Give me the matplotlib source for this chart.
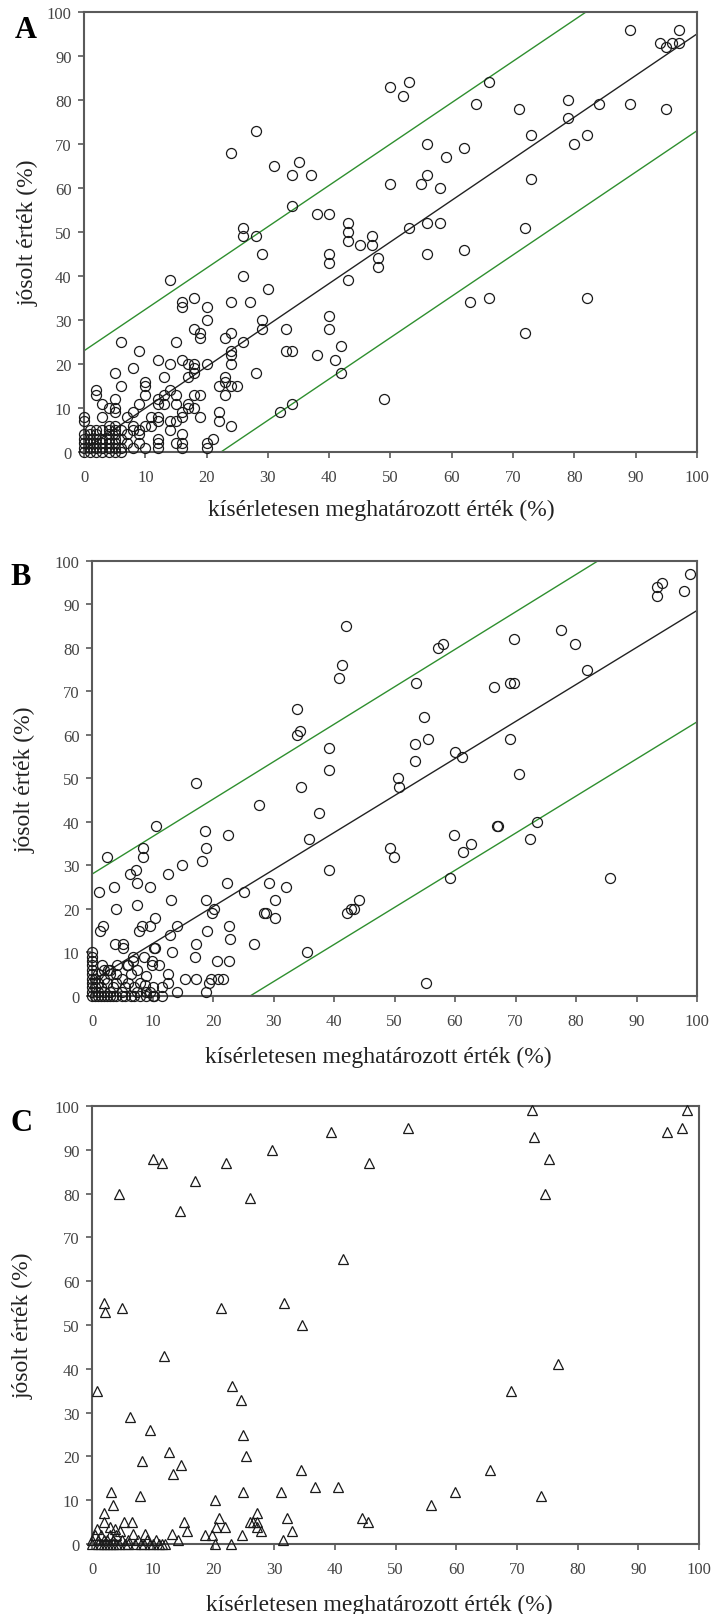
import numpy as np
import matplotlib
matplotlib.use("Agg")
from matplotlib import pyplot as plt

plt.rcParams["font.family"] = ["Liberation Serif", "DejaVu Serif"]

# ---- panel A ----
a_x = [14, 24, 28, 31, 34, 35, 37, 34, 38, 40, 43, 43, 43, 45, 26, 26, 28, 29, 26, 30, 40, 40, 43,
       50, 52, 53, 66, 64, 71, 79, 79, 84, 89, 89, 95, 94, 95, 96, 97, 97, 56, 62, 59, 50, 55, 56, 58,
       73, 73, 80, 82, 53, 56, 58, 56, 62, 72, 47, 47, 48, 48,
       63, 66, 82, 72, 49,
       18, 16, 16, 20, 24, 27, 20, 18, 19, 19, 23, 24, 26, 15, 6, 29, 29, 33, 33, 34, 38, 40, 40, 41,
       42, 42, 9, 8, 5, 6, 2, 2, 12, 14, 16, 17, 18, 18, 18, 20, 17, 24, 24, 24, 28, 23, 23, 22, 24,
       25, 23, 13, 10, 10, 10, 14, 15, 13, 13, 12, 12, 15, 16, 17, 17, 18, 18, 19, 19, 22, 22, 24, 9,
       8, 7, 5, 5, 5, 4, 3, 3, 0, 0, 11, 12, 12, 14, 15, 16, 14, 10, 11, 9, 9, 12, 12, 12, 10, 8, 9,
       16, 16, 16, 15, 20, 20, 21, 32, 34,
       0, 0, 0, 0, 0, 1, 1, 1, 1, 1, 1, 2, 2, 2, 2, 2, 2, 3, 3, 3, 3, 3, 4, 4, 4, 4, 4, 4, 4,
       5, 5, 5, 5, 5, 5, 5, 6, 6, 6, 6, 7, 7, 8, 8]
a_y = [39, 68, 73, 65, 63, 66, 63, 56, 54, 54, 52, 50, 48, 47, 51, 49, 49, 45, 40, 37, 45, 43, 39,
       83, 81, 84, 84, 79, 78, 80, 76, 79, 96, 79, 78, 93, 92, 93, 93, 96, 70, 69, 67, 61, 61, 63, 60,
       72, 62, 70, 72, 51, 52, 52, 45, 46, 51, 49, 47, 44, 42,
       34, 35, 35, 27, 12,
       35, 34, 33, 33, 34, 34, 30, 28, 27, 26, 26, 27, 25, 25, 25, 30, 28, 28, 23, 23, 22, 31, 28, 21,
       24, 18, 23, 19, 18, 15, 14, 13, 21, 20, 21, 20, 20, 19, 18, 20, 17, 22, 23, 20, 18, 17, 16, 15, 15,
       15, 13, 17, 16, 15, 13, 14, 13, 13, 11, 12, 11, 11, 9, 11, 10, 10, 13, 13, 8, 9, 7, 6, 11,
       9, 8, 12, 10, 9, 10, 11, 8, 8, 7, 8, 8, 7, 7, 7, 8, 5, 6, 6, 5, 4, 3, 2, 1, 1, 1, 2,
       4, 2, 1, 2, 2, 1, 3, 9, 11,
       0, 1, 2, 3, 4, 0, 1, 2, 3, 4, 5, 0, 1, 2, 3, 4, 5, 0, 1, 2, 3, 5, 0, 1, 2, 3, 4, 5, 6,
       0, 1, 2, 3, 4, 5, 6, 0, 1, 3, 5, 2, 4, 5, 6]
# regression line and prediction band: intercept, slope
a_fit = (0.5, 0.945)
a_band_hi = (23.0, 0.94)
a_band_lo = (-21.0, 0.94)

# ---- panel B ----
b_x = [42, 41.3, 40.9, 33.8, 34.3, 33.8, 39.2, 39.2, 34.5, 17.2, 27.6, 37.5, 10.6, 18.6, 22.4, 35.9,
       98.8, 94.2, 93.3, 93.4, 97.8, 77.5, 79.8, 81.8, 69.8, 69.1, 69.8, 66.4, 57.2, 58, 53.6, 54.9,
       53.4, 55.6, 53.3, 50.6, 50.8, 60, 61.2, 69.1, 70.5, 67.1, 67.0, 73.5, 72.4, 59.8, 62.6, 61.3, 49.2,
       49.9, 59.2, 85.6, 55.2, 44.1, 43.3,
       8.5, 8.5, 2.5, 18.8, 18.1, 14.8, 7.3, 6.3, 12.6, 7.5, 9.6, 3.7, 1.2, 7.4, 3.9, 13, 18.8, 20.2,
       19.9, 22.3, 25.1, 29.3, 32.1, 30.3, 30.2, 28.5, 28.7, 39.2, 42.1, 42.8, 10.4, 14, 12.9, 19,
       22.6, 22.8, 26.7, 35.5, 17.2, 13.3, 17.1, 20.7, 22.7, 9.6, 8.2, 7.8, 1.8, 1.4, 3.8, 5.1, 5.2,
       10.4, 10.2, 0, 0, 0, 0, 6.7, 8.6, 6.7, 9.9, 9.9, 11, 5.7, 4.1, 2.7, 1.6, 15.4, 17.2, 19.6, 20.9,
       21.6, 19.4, 18.8, 14.1, 12.6, 12.6, 11.6, 11.5, 8.9, 8.8, 9.6, 10.2,
       0, 0, 0, 0, 0, 0, 0, 0.5, 0.5, 0.5, 1, 1, 1, 1, 1.5, 1.5, 2, 2, 2, 2, 2.5, 2.5, 3, 3, 3, 3,
       3.5, 3.5, 4, 4, 4, 5, 5, 5, 5.5, 5.5, 6, 6, 6.5, 6.5, 7, 7, 7.5, 7.5, 8, 8, 9, 9, 10, 10]
b_y = [85, 76, 73, 66, 61, 60, 57, 52, 48, 49, 44, 42, 39, 38, 37, 36,
       97, 95, 94, 92, 93, 84, 81, 75, 82, 72, 72, 71, 80, 81, 72, 64,
       58, 59, 54, 50, 48, 56, 55, 59, 51, 39, 39, 40, 36, 37, 35, 33, 34,
       32, 27, 27, 3, 22, 20,
       34, 32, 32, 34, 31, 30, 29, 28, 28, 26, 25, 25, 24, 21, 20, 22, 22, 20,
       19, 26, 24, 26, 25, 22, 18, 19, 19, 29, 19, 20, 18, 16, 14, 15,
       16, 13, 12, 10, 12, 10, 9, 8, 8, 16, 16, 15, 16, 15, 12, 12, 11,
       11, 11, 10, 9, 8, 7, 9, 9, 8, 8, 7, 7, 7, 7, 6, 7, 4, 4, 4, 4,
       4, 3, 1, 1, 5, 3, 2, 0, 4.5, 2.5, 1, 0,
       0, 1, 2, 3, 4, 5, 6, 0, 2, 4, 0, 1, 3, 5, 0, 2, 0, 1, 4, 6, 0, 3, 0, 1, 5, 6,
       0, 2, 0, 3, 5, 0, 1, 4, 0, 2, 3, 7, 0, 5, 0, 2, 1, 6, 0, 3, 0, 1, 0, 2]
b_fit = (3.5, 0.851)
b_band_hi = (28.0, 0.861)
b_band_lo = (-22.3, 0.853)

# ---- panel C ----
c_x = [2, 2.1, 5, 4.4, 10.1, 11.6, 14.5, 16.9, 22.1, 26.1, 29.7, 39.4, 41.3, 21.2, 31.7, 34.6, 11.8,
       52, 72.5, 72.8, 75.3, 74.7, 45.7, 98, 97.2, 94.8,
       0.8, 6.3, 9.6, 8.3, 12.7, 14.7, 13.4, 7.9, 3.2, 3.4, 1.9, 1.9, 3.0, 5.2, 6.6, 0.8, 3.8, 4.6,
       6.8, 8.8, 13.2, 14.2, 23, 24.5, 24.8, 25.3, 24.9, 20.3, 20.9, 20.4, 21.9, 18.6, 19.7, 20.3,
       22.9, 24.7, 15.2, 15.7, 27.1, 26.6, 27.2, 26.1, 27.1, 27.9, 31.2, 32.1, 32.9, 31.4, 34.5,
       36.8, 40.6, 44.4, 45.4, 76.8, 69, 65.6, 59.8, 74, 55.9,
       0, 0, 0.5, 1, 1, 1.5, 1.5, 2, 2, 2.5, 2.5, 3, 3, 3.5, 3.5, 4, 4, 4.5, 5, 5.5, 6, 6, 7, 7.5,
       8, 8.5, 9, 9.5, 10, 10.5, 11, 11.5, 12]
c_y = [55, 53, 54, 80, 88, 87, 76, 83, 87, 79, 90, 94, 65, 54, 55, 50, 43,
       95, 99, 93, 88, 80, 87, 99, 95, 94,
       35, 29, 26, 19, 21, 18, 16, 11, 12, 9, 7, 5, 4, 5, 5, 3.4, 3.4, 3,
       2.3, 2.3, 2.3, 1, 36, 33, 25, 20, 12, 10, 6, 4, 4, 2, 2, 0,
       0, 2, 5, 3, 7, 5, 5, 5, 4, 3, 12, 6, 3, 1, 17,
       13, 13, 6, 5, 41, 35, 17, 12, 11, 9,
       0, 1, 2, 0, 1, 0, 2, 0, 1, 0, 1, 0, 2, 0, 1, 0, 2, 0, 1, 0, 0, 1, 0, 1,
       0, 0, 1, 0, 0, 1, 0, 0, 0]

xlabel = "kísérletesen meghatározott érték (%)"
ylabel = "jósolt érték (%)"
ticks = np.arange(0, 101, 10)

fig = plt.figure(figsize=(7.15, 16.15), dpi=100)

axA = fig.add_axes([0.1175, 0.7195, 0.8573, 0.2725])
axB = fig.add_axes([0.1287, 0.3827, 0.8462, 0.2694])
axC = fig.add_axes([0.1287, 0.0433, 0.8490, 0.2712])


def style(ax, xl_pos, yl_pos):
    ax.set_xlim(0, 100)
    ax.set_ylim(0, 100)
    ax.set_xticks(ticks)
    ax.set_yticks(ticks)
    for s in ax.spines.values():
        s.set_color("#5a5a5a")
        s.set_linewidth(1.5)
    ax.tick_params(direction="out", length=4, width=1.2, color="#5a5a5a",
                   labelsize=12, labelcolor="#444444")
    ax.tick_params(axis="x", pad=8)
    ax.tick_params(axis="y", pad=5)
    ax.set_xlabel(xlabel, fontsize=17, color="#222222")
    ax.set_ylabel(ylabel, fontsize=17, color="#222222")
    ax.xaxis.set_label_coords(*xl_pos)
    ax.yaxis.set_label_coords(*yl_pos)
    ax.xaxis.label.set_va("center")
    ax.yaxis.label.set_va("center")


def lines(ax, fit, hi, lo):
    xs = np.array([0, 100])
    ax.plot(xs, fit[0] + fit[1] * xs, color="#222222", lw=1.0, zorder=2)
    ax.plot(xs, hi[0] + hi[1] * xs, color="#2f8f2f", lw=1.0, zorder=2)
    ax.plot(xs, lo[0] + lo[1] * xs, color="#2f8f2f", lw=1.0, zorder=2)


style(axA, (0.485, -0.13), (-0.091, 0.5))
lines(axA, a_fit, a_band_hi, a_band_lo)
axA.plot(a_x, a_y, "o", ms=7.2, mfc="none", mec="#1a1a1a", mew=0.9, clip_on=False, zorder=3)

style(axB, (0.474, -0.14), (-0.111, 0.5))
lines(axB, b_fit, b_band_hi, b_band_lo)
axB.plot(b_x, b_y, "o", ms=7.2, mfc="none", mec="#1a1a1a", mew=0.9, clip_on=False, zorder=3)

style(axC, (0.473, -0.137), (-0.114, 0.5))
axC.plot(c_x, c_y, "^", ms=7.5, mfc="none", mec="#1a1a1a", mew=0.9, clip_on=False, zorder=3)

for lbl, x, y in [("A", 0.036, 0.9814), ("B", 0.029, 0.6427), ("C", 0.030, 0.3046)]:
    fig.text(x, y, lbl, fontsize=22, fontweight="bold", ha="center", va="center")

fig.savefig("out.png", dpi=100)
